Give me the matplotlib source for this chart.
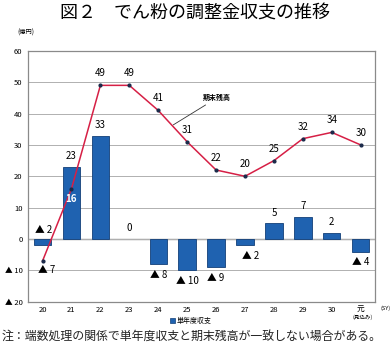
import numpy as np
import matplotlib
matplotlib.use('Agg')
import matplotlib.pyplot as plt
from matplotlib.patches import Patch

plt.rcParams['font.family'] = ['Noto Sans CJK JP', 'DejaVu Sans']

# ---- data ----
years = ['20', '21', '22', '23', '24', '25', '26', '27', '28', '29', '30', '元']
balance = [-2, 23, 33, 0, -8, -10, -9, -2, 5, 7, 2, -4]      # 単年度収支
remaining = [-7, 16, 49, 49, 41, 31, 22, 20, 25, 32, 34, 30]  # 期末残高
yticks = [-20, -10, 0, 10, 20, 30, 40, 50, 60]


def fmt(v):
    return '▲ %d' % abs(v) if v < 0 else '%d' % v


bar_color = '#1f62b0'
line_color = '#d61f45'

fig = plt.figure(figsize=(3.9, 3.46), dpi=100)
ax = fig.add_axes([0.072, 0.128, 0.89, 0.725])

x = np.arange(len(years))
lw = [0 if v == 0 else 0.6 for v in balance]
ax.bar(x, balance, width=0.6, color=bar_color, edgecolor='#123f78', linewidth=lw, zorder=2)
ax.plot(x, remaining, color=line_color, linewidth=1.1, zorder=3)
ax.plot(x, remaining, 'o', color='#1b2a4a', markersize=2, zorder=4)

ax.set_xlim(-0.5, len(years) - 0.5)
ax.set_ylim(-20, 60)
ax.set_yticks(yticks)
ax.set_yticklabels([fmt(v) for v in yticks], fontsize=5.5)
ax.set_xticks(x)
ax.set_xticklabels(years, fontsize=5.5)
ax.tick_params(length=0, pad=4)
ax.tick_params(axis='x', pad=3)
ax.grid(axis='y', color='#b0b0b0', linewidth=0.7, zorder=0)
ax.axhline(0, color='#909090', linewidth=1.0, zorder=1)
for s in ax.spines.values():
    s.set_color('#8a8a8a')
    s.set_linewidth(0.9)

# bar labels
for i, v in enumerate(balance):
    if i == 0:
        ax.annotate(fmt(v), (i, 0), xytext=(1, 3), textcoords='offset points',
                    ha='center', va='bottom', fontsize=7)
    elif v >= 0:
        ax.annotate(fmt(v), (i, v), xytext=(0, 4), textcoords='offset points',
                    ha='center', va='bottom', fontsize=7)
    else:
        dx = 4 if i == 7 else 0
        ax.annotate(fmt(v), (i, v), xytext=(dx, -4), textcoords='offset points',
                    ha='center', va='top', fontsize=7)

# line labels
for i, v in enumerate(remaining):
    if i == 0:
        ax.annotate(fmt(v), (i, v), xytext=(-3, -3), textcoords='offset points',
                    ha='left', va='top', fontsize=7)
    elif i == 1:
        ax.annotate(fmt(v), (i, v), xytext=(0, -7), textcoords='offset points',
                    ha='center', va='center', fontsize=7, color='white', fontweight='bold')
    else:
        ax.annotate(fmt(v), (i, v), xytext=(0, 5), textcoords='offset points',
                    ha='center', va='bottom', fontsize=7)

ax.annotate('期末残高', xy=(4.52, 36.4), xytext=(5.55, 45), fontsize=5, fontweight='bold',
            ha='left', va='center',
            arrowprops=dict(arrowstyle='-', color='#333333', linewidth=0.6, shrinkA=1, shrinkB=0))

fig.text(0.5, 0.96, '図２　でん粉の調整金収支の推移', ha='center', va='center', fontsize=13)
fig.text(0.045, 0.905, '(億円)', ha='left', va='center', fontsize=4.5)
fig.text(0.975, 0.11, '(SY)', ha='left', va='center', fontsize=4)
fig.text(0.931, 0.083, '(見込み)', ha='center', va='center', fontsize=4)
fig.legend(handles=[Patch(facecolor=bar_color, edgecolor='#123f78', linewidth=0.5, label='単年度収支')],
           loc='center', bbox_to_anchor=(0.49, 0.072), frameon=False, fontsize=5,
           handlelength=0.7, handleheight=0.7, handletextpad=0.3, borderpad=0)
fig.text(0.004, 0.025, '注：端数処理の関係で単年度収支と期末残高が一致しない場合がある。',
         ha='left', va='center', fontsize=8.6, color='#222222')

fig.savefig('out.png', dpi=100)
